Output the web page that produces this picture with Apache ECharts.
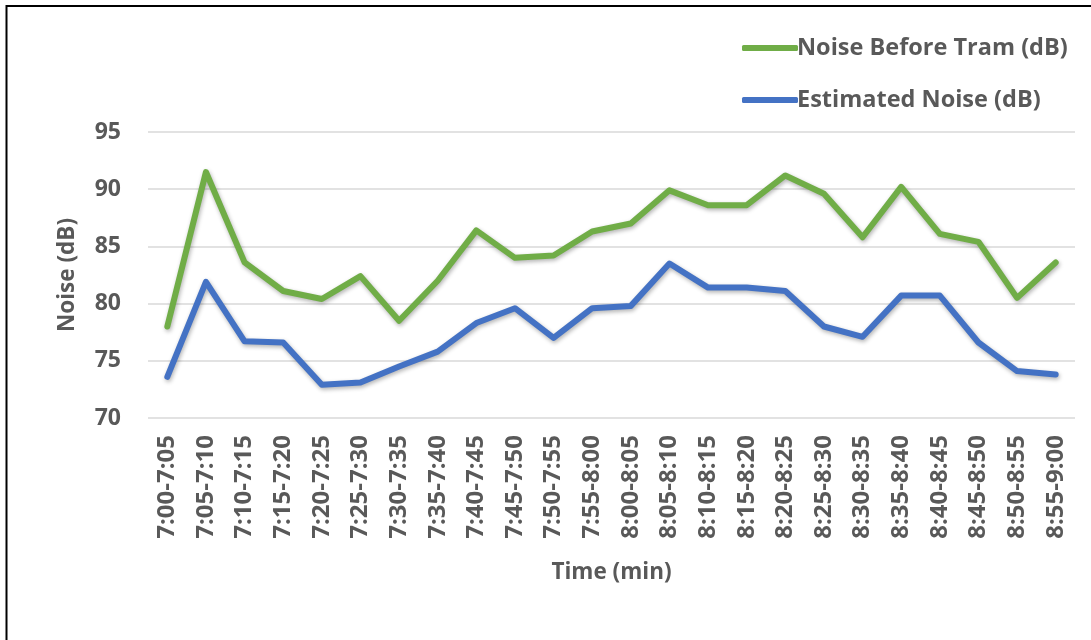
<!DOCTYPE html>
<html>
<head>
<meta charset="utf-8">
<script src="https://cdn.jsdelivr.net/npm/echarts@6/dist/echarts.min.js"></script>
<style>
  html, body { margin: 0; padding: 0; background: #ffffff; }
  #chart { width: 1091px; height: 640px; }
</style>
</head>
<body>
<div id="chart"></div>
<script>
// Five-minute intervals from 7:00 to 9:00
const timeSlots = [
  '7:00-7:05', '7:05-7:10', '7:10-7:15', '7:15-7:20', '7:20-7:25', '7:25-7:30',
  '7:30-7:35', '7:35-7:40', '7:40-7:45', '7:45-7:50', '7:50-7:55', '7:55-8:00',
  '8:00-8:05', '8:05-8:10', '8:10-8:15', '8:15-8:20', '8:20-8:25', '8:25-8:30',
  '8:30-8:35', '8:35-8:40', '8:40-8:45', '8:45-8:50', '8:50-8:55', '8:55-9:00'
];

// Measured noise level before the tram, dB
const noiseBeforeTram = [
  78.0, 91.5, 83.6, 81.1, 80.4, 82.4, 78.5, 82.0, 86.4, 84.0, 84.2, 86.3,
  87.0, 89.9, 88.6, 88.6, 91.2, 89.6, 85.8, 90.2, 86.1, 85.4, 80.5, 83.6
];

// Estimated noise level, dB
const estimatedNoise = [
  73.6, 81.9, 76.7, 76.6, 72.9, 73.1, 74.5, 75.8, 78.3, 79.6, 77.0, 79.6,
  79.8, 83.5, 81.4, 81.4, 81.1, 78.0, 77.1, 80.7, 80.7, 76.6, 74.1, 73.8
];

const seriesNames = ['Noise Before Tram (dB)', 'Estimated Noise (dB)'];
const yMin = 70, yMax = 95, yStep = 5;

const FONT = 'Open Sans';
const TEXT_COLOR = '#595959';
const GREEN = '#70AD47';
const BLUE = '#4472C4';

const chart = echarts.init(document.getElementById('chart'), null, { renderer: 'canvas' });

const lineShadow = {
  shadowColor: 'rgba(0,0,0,0.3)',
  shadowBlur: 4,
  shadowOffsetX: 1,
  shadowOffsetY: 2
};

const boldText = (size) => ({
  fontFamily: FONT,
  fontWeight: 'bold',
  fontSize: size,
  color: TEXT_COLOR
});

chart.setOption({
  backgroundColor: '#ffffff',
  animation: false,
  textStyle: { fontFamily: FONT },
  graphic: [{
    type: 'rect',
    shape: { x: 6.5, y: 6, width: 1200, height: 1000 },
    style: { fill: 'none', stroke: '#000000', lineWidth: 2 },
    silent: true,
    z: 100
  }],
  legend: {
    orient: 'vertical',
    left: 737,
    top: 31,
    itemWidth: 56,
    itemHeight: 6,
    itemGap: 28,
    icon: 'roundRect',
    textStyle: Object.assign(boldText(23.5), { padding: [0, 0, 0, -6] }),
    data: seriesNames
  },
  grid: {
    left: 148,
    right: 16,
    top: 132,
    bottom: 222,
    containLabel: false
  },
  xAxis: {
    type: 'category',
    data: timeSlots,
    boundaryGap: true,
    name: 'Time (min)',
    nameLocation: 'middle',
    nameGap: 143,
    nameTextStyle: boldText(22.5),
    axisLine: { show: false },
    axisTick: { show: false },
    axisLabel: Object.assign(boldText(24), {
      rotate: 90,
      interval: 0,
      margin: 17
    })
  },
  yAxis: {
    type: 'value',
    min: yMin,
    max: yMax,
    interval: yStep,
    name: 'Noise (dB)',
    nameLocation: 'middle',
    nameGap: 69,
    nameRotate: 90,
    nameTextStyle: boldText(22.5),
    axisLine: { show: false },
    axisTick: { show: false },
    axisLabel: Object.assign(boldText(23), { margin: 27 }),
    splitLine: { lineStyle: { color: '#D9D9D9', width: 1.5 } }
  },
  series: [
    {
      name: seriesNames[0],
      type: 'line',
      data: noiseBeforeTram,
      showSymbol: false,
      symbol: 'none',
      color: GREEN,
      lineStyle: Object.assign({ color: GREEN, width: 6, cap: 'round', join: 'round' }, lineShadow),
      z: 3
    },
    {
      name: seriesNames[1],
      type: 'line',
      data: estimatedNoise,
      showSymbol: false,
      symbol: 'none',
      color: BLUE,
      lineStyle: Object.assign({ color: BLUE, width: 6, cap: 'round', join: 'round' }, lineShadow),
      z: 2
    }
  ]
});
</script>
</body>
</html>
